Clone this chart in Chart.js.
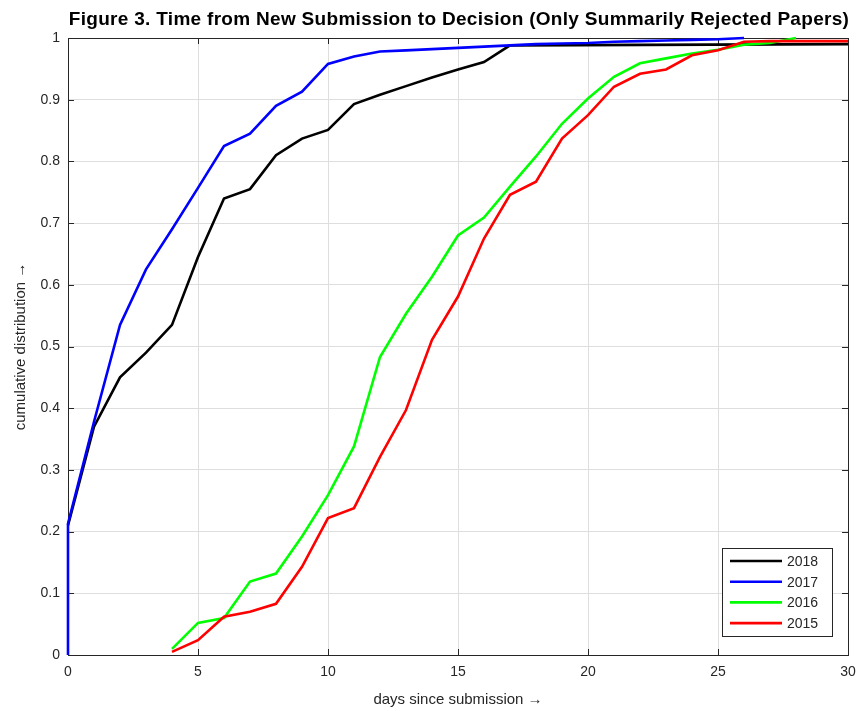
<!DOCTYPE html>
<html>
<head>
<meta charset="utf-8">
<script src="https://cdn.jsdelivr.net/npm/chart.js@4/dist/chart.umd.min.js"></script>
<style>
  body { margin: 0; background: #fff; }
  #wrap { width: 860px; height: 711px; }
</style>
</head>
<body>
<div id="wrap"><canvas id="chart" width="860" height="711"></canvas></div>
<script>
const days2018 = [0, 1, 2, 3, 4, 5, 6, 7, 8, 9, 10, 11, 12, 13, 14, 15, 16, 17, 30];
const vals2018 = [0.21, 0.37, 0.45, 0.49, 0.535, 0.645, 0.74, 0.755, 0.81, 0.837, 0.851, 0.893, 0.908, 0.922, 0.936, 0.949, 0.961, 0.988, 0.99];

const days2017 = [0, 0, 1, 2, 3, 4, 5, 6, 7, 8, 9, 10, 11, 12, 13, 14, 15, 16, 17, 18, 19, 20, 21, 22, 23, 24, 25, 26];
const vals2017 = [0, 0.213, 0.378, 0.535, 0.625, 0.69, 0.757, 0.825, 0.845, 0.89, 0.913, 0.958, 0.97, 0.978, 0.98, 0.982, 0.984, 0.986, 0.988, 0.99, 0.991, 0.992, 0.994, 0.995, 0.996, 0.997, 0.998, 1.0];

const days2016 = [4, 5, 6, 7, 8, 9, 10, 11, 12, 13, 14, 15, 16, 17, 18, 19, 20, 21, 22, 23, 24, 25, 26, 27, 28];
const vals2016 = [0.01, 0.052, 0.06, 0.119, 0.132, 0.192, 0.259, 0.338, 0.483, 0.553, 0.613, 0.68, 0.709, 0.759, 0.808, 0.861, 0.902, 0.937, 0.959, 0.967, 0.975, 0.981, 0.989, 0.992, 1.0];

const days2015 = [4, 5, 6, 7, 8, 9, 10, 11, 12, 13, 14, 15, 16, 17, 18, 19, 20, 21, 22, 23, 24, 25, 26, 27, 28, 29, 30];
const vals2015 = [0.005, 0.024, 0.062, 0.07, 0.083, 0.143, 0.222, 0.238, 0.321, 0.397, 0.511, 0.581, 0.675, 0.746, 0.767, 0.837, 0.875, 0.921, 0.942, 0.949, 0.972, 0.98, 0.994, 0.995, 0.995, 0.995, 0.995];

const xTicks = [0, 5, 10, 15, 20, 25, 30];
const yTicks = [0, 0.1, 0.2, 0.3, 0.4, 0.5, 0.6, 0.7, 0.8, 0.9, 1];

const seriesNames = ["2018", "2017", "2016", "2015"];
const seriesColors = ["#000000", "#0000ff", "#00ff00", "#ff0000"];

const titleText = "Figure 3. Time from New Submission to Decision (Only Summarily Rejected Papers)";
const axisColor = "#262626";
const fontFam = "'Liberation Sans', Arial, sans-serif";

const toPoints = (xs, ys) => xs.map((x, i) => ({ x: x, y: ys[i] }));
const allDays = [days2018, days2017, days2016, days2015];
const allVals = [vals2018, vals2017, vals2016, vals2015];

const datasets = seriesNames.map((name, i) => ({
    label: name,
    data: toPoints(allDays[i], allVals[i]),
    borderColor: seriesColors[i],
    backgroundColor: seriesColors[i],
    borderWidth: 2.6,
    pointRadius: 0,
    tension: 0,
    fill: false,
    clip: 4,
    order: seriesNames.length - i,
}));

// frame + inward ticks go under the lines, title and legend box on top
const matlabBits = {
    id: "matlabBits",
    beforeDatasetsDraw(chart) {
        const ctx = chart.ctx;
        const a = chart.chartArea;
        const xs = chart.scales.x;
        const ys = chart.scales.y;
        ctx.save();
        ctx.strokeStyle = axisColor;
        ctx.lineWidth = 1;
        ctx.beginPath();
        xTicks.forEach((t) => {
            const px = Math.round(xs.getPixelForValue(t)) + 0.5;
            ctx.moveTo(px, a.bottom); ctx.lineTo(px, a.bottom - 6);
            ctx.moveTo(px, a.top); ctx.lineTo(px, a.top + 6);
        });
        yTicks.forEach((t) => {
            const py = Math.round(ys.getPixelForValue(t)) + 0.5;
            ctx.moveTo(a.left, py); ctx.lineTo(a.left + 6, py);
            ctx.moveTo(a.right, py); ctx.lineTo(a.right - 6, py);
        });
        ctx.stroke();
        ctx.strokeRect(Math.round(a.left) + 0.5, Math.round(a.top) + 0.5, Math.round(a.right - a.left), Math.round(a.bottom - a.top));
        ctx.restore();
    },
    afterDraw(chart) {
        const ctx = chart.ctx;
        ctx.save();
        ctx.fillStyle = "#000";
        ctx.font = "bold 19px " + fontFam;
        ctx.letterSpacing = "0.3px";
        ctx.textAlign = "center";
        ctx.textBaseline = "alphabetic";
        ctx.fillText(titleText, 459, 25);
        ctx.letterSpacing = "0px";

        // legend
        const bx = 722, by = 548, bw = 110, bh = 88;
        ctx.fillStyle = "#fff";
        ctx.fillRect(bx, by, bw, bh);
        ctx.strokeStyle = axisColor;
        ctx.lineWidth = 1;
        ctx.strokeRect(bx + 0.5, by + 0.5, bw, bh);
        ctx.font = "14px " + fontFam;
        ctx.textAlign = "left";
        ctx.textBaseline = "middle";
        seriesNames.forEach((name, i) => {
            const ly = by + 13 + i * 20.7;
            ctx.strokeStyle = seriesColors[i];
            ctx.lineWidth = 2.6;
            ctx.beginPath();
            ctx.moveTo(bx + 8, ly);
            ctx.lineTo(bx + 60, ly);
            ctx.stroke();
            ctx.fillStyle = axisColor;
            ctx.fillText(name, bx + 65, ly + 1);
        });
        ctx.restore();
    },
};

const config = {
    type: "line",
    data: { datasets: datasets },
    options: {
        responsive: false,
        animation: false,
        layout: { padding: { top: 38, right: 12, left: 0, bottom: 0 } },
        plugins: {
            legend: { display: false },
            tooltip: { enabled: false },
        },
        scales: {
            x: {
                type: "linear",
                min: 0,
                max: 30,
                afterBuildTicks: (scale) => { scale.ticks = xTicks.map((v) => ({ value: v })); },
                afterFit: (scale) => {
                    scale.height = 56;
                    scale.paddingRight = 0;
                    scale.paddingLeft = 0;
                },
                grid: { color: "#dedede", drawTicks: false },
                border: { color: axisColor },
                ticks: {
                    padding: 9,
                    color: axisColor,
                    font: { family: fontFam, size: 14 },
                },
                title: {
                    display: true,
                    text: "days since submission \u2192",
                    color: axisColor,
                    font: { family: fontFam, size: 15 },
                    padding: { top: 0, bottom: 2 },
                },
            },
            y: {
                type: "linear",
                min: 0,
                max: 1,
                afterBuildTicks: (scale) => { scale.ticks = yTicks.map((v) => ({ value: v })); },
                afterFit: (scale) => {
                    scale.width = 68;
                    scale.paddingTop = 0;
                    scale.paddingBottom = 0;
                },
                grid: { color: "#dedede", drawTicks: false },
                border: { color: axisColor },
                ticks: {
                    padding: 8,
                    color: axisColor,
                    font: { family: fontFam, size: 14 },
                    callback: (v) => String(Math.round(v * 10) / 10),
                },
                title: {
                    display: true,
                    text: "cumulative distribution \u2192",
                    color: axisColor,
                    font: { family: fontFam, size: 15 },
                    padding: { top: 12, bottom: 0 },
                },
            },
        },
    },
    plugins: [matlabBits],
};

const chartEl = document.getElementById("chart");
const myChart = new Chart(chartEl, config);
</script>
</body>
</html>
